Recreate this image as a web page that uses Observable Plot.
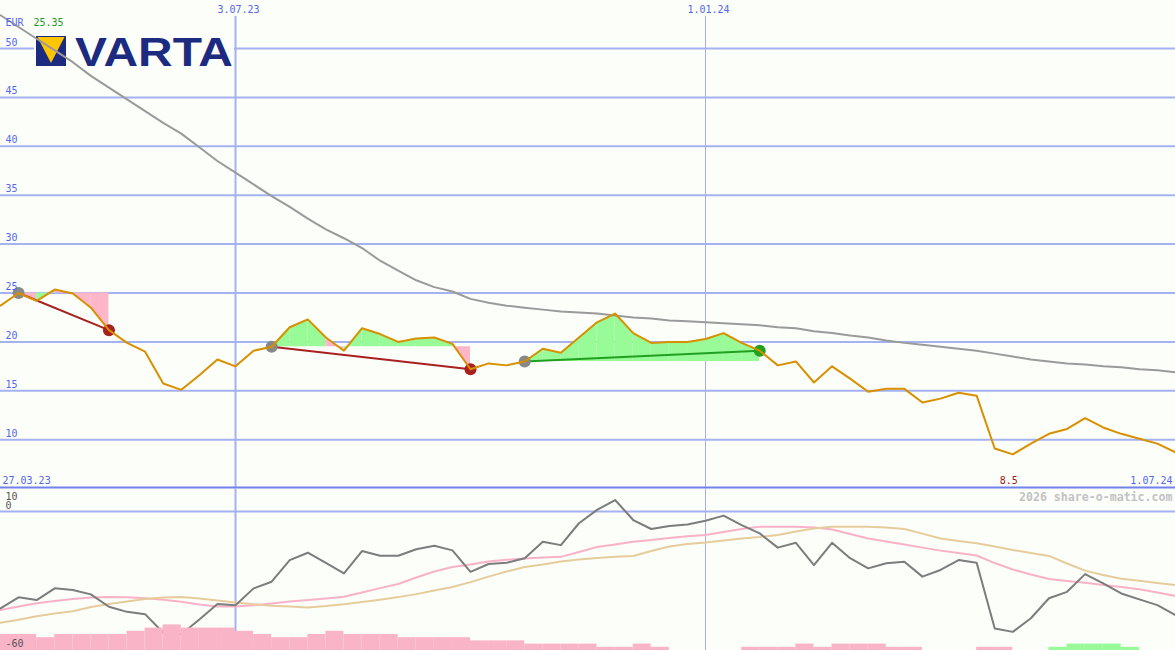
<!DOCTYPE html>
<html><head><meta charset="utf-8">
<script src="https://cdn.jsdelivr.net/npm/d3@7"></script>
<script src="https://cdn.jsdelivr.net/npm/@observablehq/plot@0.6"></script>
<style>
html,body{margin:0;padding:0;background:#fcfefa;}
#chart{position:relative;width:1175px;height:650px;overflow:hidden;background:#fcfefa;}
#chart svg{display:block;position:absolute;left:0;}
</style></head><body><div id="chart"></div>
<script>
// ---- data (weekly) ----
const startDate = "2023-04-03";
const price = [23.7, 25.0, 24.2, 25.35, 24.95, 23.5, 21.2, 19.9, 19.0, 15.75,
  15.1, 16.6, 18.2, 17.5, 19.1, 19.5, 21.5, 22.3, 20.45, 19.1,
  21.4, 20.8, 20.0, 20.35, 20.45, 19.8, 17.2, 17.8, 17.6, 18.0,
  19.3, 18.9, 20.45, 22.0, 22.9, 20.9, 19.9, 20.0, 20.0, 20.3,
  20.9, 19.9, 19.1, 17.6, 18.0, 15.85, 17.5, 16.25, 14.9, 15.2,
  15.2, 13.8, 14.2, 14.8, 14.5, 9.1, 8.5, 9.6, 10.6, 11.1,
  12.2, 11.25, 10.6, 10.1, 9.6, 8.7];
const ma200 = [53.4, 52.2, 51.0, 49.8, 48.6, 47.2, 46.0, 44.8, 43.6, 42.4,
  41.3, 39.9, 38.5, 37.3, 36.1, 34.9, 33.8, 32.6, 31.5, 30.6,
  29.6, 28.3, 27.3, 26.3, 25.6, 25.15, 24.4, 24.0, 23.7, 23.5,
  23.3, 23.1, 23.0, 22.9, 22.7, 22.5, 22.4, 22.2, 22.1, 22.0,
  21.9, 21.8, 21.7, 21.5, 21.4, 21.1, 20.9, 20.65, 20.45, 20.15,
  19.9, 19.7, 19.5, 19.3, 19.1, 18.8, 18.5, 18.2, 18.0, 17.8,
  17.7, 17.5, 17.4, 17.2, 17.1, 16.9];
const osc = [-42.1, -37.3, -38.5, -33.4, -34.1, -36.0, -41.4, -43.6, -44.6, -52.7,
  -53.3, -46.9, -40.2, -40.7, -33.4, -30.5, -21.1, -17.9, -22.3, -26.9,
  -17.2, -19.2, -19.2, -16.4, -14.9, -16.9, -26.2, -22.8, -22.3, -20.3,
  -13.1, -14.6, -5.1, 0.7, 5.0, -3.7, -7.6, -6.3, -5.6, -4.0,
  -1.8, -5.9, -9.5, -15.7, -13.6, -23.3, -13.6, -20.3, -24.7, -22.5,
  -21.8, -28.3, -25.4, -21.1, -22.3, -50.8, -52.3, -46.4, -37.7, -34.9,
  -27.2, -31.2, -35.6, -38.2, -40.7, -45.0];
const oscMaFast = [-42.8, -41.3, -39.9, -38.9, -38.0, -37.4, -37.1, -37.3, -37.7, -38.3,
  -39.2, -40.4, -41.3, -41.3, -40.7, -40.0, -39.1, -38.5, -37.8, -37.0,
  -35.2, -33.3, -31.5, -28.7, -26.1, -24.1, -23.0, -21.7, -21.0, -20.4,
  -20.0, -19.7, -17.6, -15.4, -14.3, -13.1, -12.4, -11.5, -10.7, -10.2,
  -8.9, -7.6, -6.6, -6.6, -6.6, -7.0, -7.8, -9.8, -11.7, -13.0,
  -14.3, -15.7, -17.0, -18.0, -19.1, -22.4, -25.2, -27.4, -29.3, -30.2,
  -31.0, -31.9, -32.8, -33.8, -35.2, -36.7];
const oscMaSlow = [-48.3, -47.0, -45.5, -44.3, -43.3, -41.5, -40.2, -39.1, -38.0, -37.4,
  -37.2, -37.8, -38.7, -39.5, -40.3, -40.9, -41.3, -41.7, -41.1, -40.3,
  -39.3, -38.3, -37.2, -35.9, -34.3, -32.8, -30.7, -28.3, -26.1, -24.1,
  -23.0, -21.7, -20.9, -20.2, -19.7, -19.3, -17.2, -15.2, -14.1, -13.5,
  -12.6, -11.7, -11.1, -10.2, -8.7, -7.4, -6.6, -6.6, -6.6, -7.0,
  -7.6, -9.6, -11.7, -12.8, -13.8, -15.2, -16.7, -18.0, -19.3, -22.6,
  -25.7, -27.6, -29.2, -30.1, -31.1, -32.0];
const histo = [-5,-5,-4,-5,-5,-5,-5,-6,-7,-8, -7,-7,-7,-6,-5,-4,-4,-5,-6,-5,
  -5,-5,-4,-4,-4,-4,-3,-3,-3,-2, -2,-2,-2,-1,-1,-2,-1,0,0,0,
  0,-1,-1,-1,-2,-1,-2,-2,-2,-1, -1,0,0,0,-1,-1,0,0,1,2, 2,2,1,0,0];
const trades = [{entry: 1, exit: 6}, {entry: 15, exit: 26}, {entry: 29, exit: 42}];
const priceTicks = [10, 15, 20, 25, 30, 35, 40, 45, 50];
const dateTicks = ["2023-07-03", "2024-01-01"];
const dateTickLabels = ["3.07.23", "1.01.24"];
const leftDateLabel = "27.03.23";
const rightDateLabel = "1.07.24";
const currency = "EUR";
const oscTickLabels = [10, 0, -60];
const credit = "2026 share-o-matic.com";

// ---- styles ----
const BG = "#fcfefa", GRID = "#a4b2f2", GRID2 = "#a9b0dc", SEP = "#7282ea";
const BLUE = "#5566ee", ORANGE = "#d99000", PINK = "#ffb6c8", LGREEN = "#98fb98";
const RED = "#a82020", DGREEN = "#22a022", FONT = "DejaVu Sans Mono";
const W = 1175;

const d0 = new Date(startDate + "T00:00:00Z");
const dates = price.map((_, i) => new Date(+d0 + i * 7 * 864e5));
const xDomain = [dates[0], dates[dates.length - 1]];
const tickDates = dateTicks.map(s => new Date(s + "T00:00:00Z"));
const rows = price.map((p, i) => ({date: dates[i], price: p, ma: ma200[i], osc: osc[i], m1: oscMaFast[i], m2: oscMaSlow[i]}));

const fills = [];
trades.forEach((t, k) => {
  const level = price[t.entry];
  for (let j = t.entry; j < t.exit; j++) {
    const col = price[j + 1] >= level ? LGREEN : PINK;
    for (const i of [j, j + 1]) fills.push({seg: k + "-" + j, date: dates[i], level, p: price[i], col});
  }
});
const tradeWin = t => price[t.exit] >= price[t.entry];
const minI = d3.minIndex(price), maxV = d3.max(price);

const logoMark = () => {
  const g = d3.create("svg:g");
  g.append("rect").attr("x", 34).attr("y", 32).attr("width", 200).attr("height", 37).attr("fill", BG);
  g.append("rect").attr("x", 36).attr("y", 36).attr("width", 30).attr("height", 30).attr("fill", "#1c2a80");
  g.append("path").attr("d", "M37.5,37 L64.5,37 L51,63 Z").attr("fill", "#ffc600");
  g.append("text").attr("x", 75).attr("y", 65.5).attr("text-anchor", "start")
    .attr("font-family", "Liberation Sans, Arial, sans-serif")
    .attr("font-weight", "bold").attr("font-size", 40).attr("textLength", 158).attr("lengthAdjust", "spacingAndGlyphs")
    .attr("fill", "#1c2a80").text("VARTA");
  return g.node();
};

const yMain = [50 - 440 / 9.78, 50 + 48 / 9.78];
const txt = {fontFamily: FONT, fontSize: 10};

const mainPlot = Plot.plot({
  width: W, height: 488, margin: 0,
  style: {background: "transparent", overflow: "visible"},
  x: {type: "utc", domain: xDomain, axis: null},
  y: {domain: yMain, axis: null},
  color: {type: "identity"},
  marks: [
    Plot.ruleY(priceTicks, {stroke: GRID, strokeWidth: 2}),
    Plot.ruleX([tickDates[0]], {stroke: GRID, strokeWidth: 2, insetTop: 16}),
    Plot.ruleX([tickDates[1]], {stroke: GRID2, strokeWidth: 1, insetTop: 16}),
    Plot.ruleY([yMain[0]], {stroke: SEP, strokeWidth: 2, dy: -1}),
    logoMark,
    Plot.areaY(fills, {x: "date", y1: "level", y2: "p", z: "seg", fill: "col", curve: "linear"}),
    Plot.line(rows, {x: "date", y: "ma", stroke: "#9a9a9a", strokeWidth: 2}),
    Plot.link(trades, {x1: t => dates[t.entry], y1: t => price[t.entry], x2: t => dates[t.exit], y2: t => price[t.exit],
      stroke: t => tradeWin(t) ? DGREEN : RED, strokeWidth: 2}),
    Plot.dot(trades, {x: t => dates[t.entry], y: t => price[t.entry], r: 6, fill: "#888888"}),
    Plot.dot(trades, {x: t => dates[t.exit], y: t => price[t.exit], r: 6, fill: t => tradeWin(t) ? DGREEN : RED}),
    Plot.line(rows, {x: "date", y: "price", stroke: ORANGE, strokeWidth: 2}),
    Plot.text(priceTicks, {y: d => d, text: d => String(d), frameAnchor: "left", textAnchor: "start", lineAnchor: "bottom", dx: 5, dy: -3, fill: BLUE, ...txt}),
    Plot.text(tickDates, {x: d => d, text: (d, i) => dateTickLabels[i], frameAnchor: "top", lineAnchor: "top", dy: 5, dx: 3, fill: BLUE, ...txt}),
    Plot.text([currency], {text: d => d, frameAnchor: "top-left", textAnchor: "start", lineAnchor: "bottom", dx: 5, dy: 25, fill: BLUE, ...txt}),
    Plot.text([maxV], {text: d => d.toFixed(2), frameAnchor: "top-left", textAnchor: "start", lineAnchor: "bottom", dx: 33, dy: 25, fill: "#229922", ...txt}),
    Plot.text([leftDateLabel], {text: d => d, frameAnchor: "bottom-left", textAnchor: "start", lineAnchor: "bottom", dx: 2, dy: -5, fill: BLUE, ...txt}),
    Plot.text([rightDateLabel], {text: d => d, frameAnchor: "bottom-right", textAnchor: "end", lineAnchor: "bottom", dx: -3, dy: -5, fill: BLUE, ...txt}),
    Plot.text([minI], {x: i => dates[i], text: i => String(price[i]), frameAnchor: "bottom", textAnchor: "middle", lineAnchor: "bottom", dx: -4, dy: -5, fill: "#a01818", ...txt})
  ]
});

const BASE = -60.4, UNIT = 3.2 / (162 / 70.4);
const bars = histo.map((v, i) => ({d1: dates[i], d2: dates[i + 1], v})).filter(b => b.v !== 0);

const lowerPlot = Plot.plot({
  width: W, height: 162, margin: 0,
  style: {background: "transparent", overflow: "visible"},
  x: {type: "utc", domain: xDomain, axis: null},
  y: {domain: [BASE, 10], axis: null},
  color: {type: "identity"},
  marks: [
    Plot.ruleY([0], {stroke: GRID, strokeWidth: 2}),
    Plot.ruleX([tickDates[0]], {stroke: GRID, strokeWidth: 2}),
    Plot.ruleX([tickDates[1]], {stroke: GRID2, strokeWidth: 1}),
    Plot.line(rows, {x: "date", y: "m1", stroke: "#f8b2c8", strokeWidth: 2}),
    Plot.line(rows, {x: "date", y: "m2", stroke: "#e6cc9c", strokeWidth: 2}),
    Plot.line(rows, {x: "date", y: "osc", stroke: "#7c7c7c", strokeWidth: 2}),
    Plot.rect(bars, {x1: "d1", x2: "d2", y1: () => BASE, y2: d => BASE + Math.abs(d.v) * UNIT, fill: d => d.v > 0 ? LGREEN : "#f9b4c8"}),
    Plot.text([oscTickLabels[0]], {y: d => d, text: d => String(d), frameAnchor: "left", textAnchor: "start", lineAnchor: "bottom", dx: 5, dy: 11, fill: "#555", ...txt}),
    Plot.text(oscTickLabels.slice(1), {y: d => d, text: d => String(d), frameAnchor: "left", textAnchor: "start", lineAnchor: "bottom", dx: 5, dy: -3, fill: "#555", ...txt}),
    Plot.text([credit], {text: d => d, frameAnchor: "top-right", textAnchor: "end", lineAnchor: "bottom", dx: -3, dy: 12, fill: "#c2c2c2", fontWeight: "bold", fontFamily: FONT, fontSize: 11.6})
  ]
});

const chart = document.getElementById("chart");
mainPlot.style.top = "0px";
lowerPlot.style.top = "488px";
chart.appendChild(mainPlot);
chart.appendChild(lowerPlot);
</script></body></html>
